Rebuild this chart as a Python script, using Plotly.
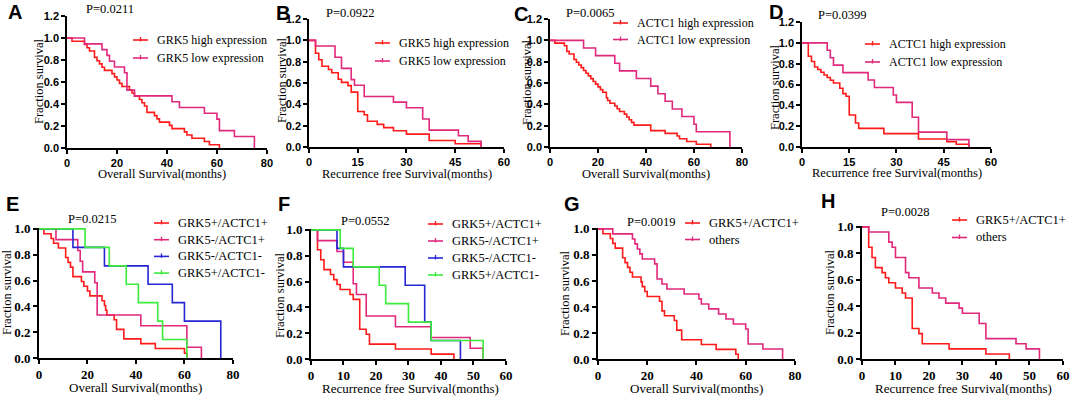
import plotly.graph_objects as go

W, H = 1072, 398

# ---------------- data ----------------
RED, PINK, BLUE, GREEN = "#FF1A1A", "#E0287C", "#2626D4", "#3CEB3C"

P_values = ["P=0.0211", "P=0.0922", "P=0.0065", "P=0.0399",
            "P=0.0215", "P=0.0552", "P=0.0019", "P=0.0028"]

GRK5_labels = ["GRK5 high expression", "GRK5 low expression"]
ACTC1_labels = ["ACTC1 high expression", "ACTC1 low expression"]
COMBO4_labels = ["GRK5+/ACTC1+", "GRK5-/ACTC1+", "GRK5-/ACTC1-", "GRK5+/ACTC1-"]
COMBO2_labels = ["GRK5+/ACTC1+", "others"]

# A: overall survival by GRK5
A_high_t = [0, 2, 7, 8, 9, 11, 12, 13, 14, 15, 18, 19, 20, 21, 22, 25, 26, 27, 29, 30, 31, 32, 35, 36, 37, 41, 42, 47, 48, 50, 55, 57, 61]
A_high_s = [1.0, .971, .941, .912, .882, .824, .794, .765, .735, .706, .676, .647, .618, .588, .559, .529, .5, .471, .441, .412, .382, .324, .294, .265, .235, .206, .176, .147, .118, .088, .059, .029, 0]
A_low_t = [0, 7, 14, 16, 17, 19, 23, 24, 27, 42, 45, 55, 60, 61, 67, 75]
A_low_s = [1.0, .947, .895, .842, .789, .737, .684, .526, .474, .421, .368, .316, .263, .158, .105, 0]

# B: recurrence free survival by GRK5
B_high_t = [0, 2, 3, 4, 6, 7, 9, 10, 12, 13, 15, 17, 18, 21, 23, 26, 30, 37, 45, 53]
B_high_s = [1.0, .879, .818, .758, .727, .697, .636, .606, .576, .515, .333, .303, .242, .212, .182, .152, .121, .061, .030, 0]
B_low_t = [0, 2, 8, 10, 13, 14, 17, 26, 30, 35, 37, 46, 49, 53]
B_low_s = [1.0, .947, .842, .737, .632, .579, .474, .421, .368, .263, .158, .105, .053, 0]

# C: overall survival by ACTC1
C_high_t = [0, 2, 6, 7, 8, 10, 11, 12, 13, 14, 15, 16, 17, 18, 19, 20, 21, 22, 23.5, 24, 25, 27, 28, 29, 31, 32, 33, 34, 35, 42, 48, 53, 54, 57, 61, 67]
C_high_s = [1.0, .974, .949, .897, .872, .821, .795, .769, .744, .718, .692, .667, .641, .615, .590, .564, .538, .513, .462, .436, .410, .385, .359, .333, .308, .282, .256, .231, .205, .154, .128, .103, .077, .051, .026, 0]
C_low_t = [0, 14, 19, 27, 29, 36, 42, 45, 48, 51, 55, 60, 61, 75]
C_low_s = [1.0, .929, .857, .786, .714, .643, .571, .5, .429, .357, .286, .214, .143, 0]

# D: recurrence free survival by ACTC1
D_high_t = [0, 2, 3, 4, 5, 6, 7, 8, 9, 10, 12, 13, 14, 15, 17, 18, 26, 37, 46, 49, 53]
D_high_s = [1.0, .872, .821, .769, .744, .718, .692, .667, .641, .615, .564, .513, .487, .308, .231, .179, .128, .077, .051, .026, 0]
D_low_t = [0, 8, 9, 10, 13, 21, 23, 29, 30, 35, 37, 46, 53]
D_low_s = [1.0, .929, .857, .786, .714, .643, .571, .5, .429, .286, .143, .071, 0]

# E: overall survival, four groups
E_pp_t = [0, 2, 5, 6, 8, 11, 12, 13, 14, 17.5, 18.5, 20, 21, 26, 27, 27.5, 28, 31, 32, 35, 42, 48, 60, 61]
E_pp_s = [1.0, .963, .926, .889, .852, .778, .741, .704, .630, .593, .556, .519, .481, .444, .407, .370, .333, .296, .222, .148, .111, .074, .037, 0]
E_mp_t = [0, 7, 16, 17, 18, 23, 24, 42, 61, 67]
E_mp_s = [1.0, .917, .833, .75, .667, .583, .333, .25, .083, 0]
E_mm_t = [0, 14, 27, 45, 55, 60, 75]
E_mm_s = [1.0, .857, .714, .571, .429, .286, 0]
E_pm_t = [0, 19, 29, 36, 41, 49, 51, 61]
E_pm_s = [1.0, .857, .714, .571, .429, .286, .143, 0]

# F: recurrence free survival, four groups
F_pp_t = [0, 2, 3, 4, 6, 7, 8, 9, 12, 13, 15, 17, 18, 26, 37, 44]
F_pp_s = [1.0, .846, .769, .692, .654, .615, .577, .538, .5, .462, .231, .192, .115, .077, .038, 0]
F_mp_t = [0, 2, 8, 10, 13, 14, 17, 26, 37, 49, 53]
F_mp_s = [1.0, .917, .833, .75, .583, .5, .333, .25, .167, .083, 0]
F_mm_t = [0, 8, 10, 29, 35, 37, 46]
F_mm_s = [1.0, .857, .714, .571, .286, .143, 0]
F_pm_t = [0, 9, 13, 21, 23, 30, 37, 53]
F_pm_s = [1.0, .857, .714, .571, .429, .286, .143, 0]

# G: overall survival, GRK5+/ACTC1+ vs others
G_pp_t = [0, 2, 5, 6, 7, 10, 11, 12, 13, 14, 17.5, 18, 19, 20, 25, 26, 27, 31, 32, 34, 42, 48, 56, 57]
G_pp_s = [1.0, .963, .926, .889, .852, .778, .741, .704, .667, .630, .593, .556, .519, .481, .444, .370, .333, .296, .222, .148, .111, .074, .037, 0]
G_ot_t = [0, 6, 14, 15, 16, 17, 18, 23, 24, 26, 28, 35, 41, 42, 45, 49, 52, 55, 60, 61, 67, 75]
G_ot_s = [1.0, .962, .923, .885, .846, .808, .769, .731, .615, .577, .538, .5, .462, .423, .385, .346, .308, .269, .231, .115, .077, 0]

# H: recurrence free survival, GRK5+/ACTC1+ vs others
H_pp_t = [0, 2, 3, 4, 6, 7, 8, 10, 12, 13, 15, 17, 18, 26, 37, 44]
H_pp_s = [1.0, .846, .769, .692, .654, .615, .577, .538, .5, .462, .231, .192, .115, .077, .038, 0]
H_ot_t = [0, 2, 8, 9, 10, 13, 14, 17, 21, 23, 25, 29, 30, 35, 37, 46, 49, 53]
H_ot_s = [1.0, .962, .885, .846, .769, .654, .615, .538, .5, .462, .423, .385, .346, .269, .154, .115, .077, 0]

OS_title = "Overall Survival(months)"
RFS_title = "Recurrence free Survival(months)"
Y_title = "Fraction survival"

# ---------------- layout of the panels (pixels) ----------------
panels = [
    dict(letter="A", box=(67, 267, 16, 148), xmax=80, dtick=20, top=True, xtitle=OS_title,
         xt=(162, 174), yt=(39, 81), lp=(15, 12), pp=(110, 9), leg=(133, 40, 18),
         series=[(GRK5_labels[0], A_high_t, A_high_s, RED), (GRK5_labels[1], A_low_t, A_low_s, PINK)]),
    dict(letter="B", box=(309, 504, 19, 147), xmax=60, dtick=15, top=True, xtitle=RFS_title,
         xt=(407, 174), yt=(282, 80), lp=(283, 13), pp=(350, 13), leg=(375, 43, 18),
         series=[(GRK5_labels[0], B_high_t, B_high_s, RED), (GRK5_labels[1], B_low_t, B_low_s, PINK)]),
    dict(letter="C", box=(550, 742, 19, 147), xmax=80, dtick=20, top=True, xtitle=OS_title,
         xt=(646, 174), yt=(527, 82), lp=(521, 14), pp=(590, 13), leg=(613, 23, 16.5),
         series=[(ACTC1_labels[0], C_high_t, C_high_s, RED), (ACTC1_labels[1], C_low_t, C_low_s, PINK)]),
    dict(letter="D", box=(802, 991, 22, 147), xmax=60, dtick=15, top=True, xtitle=RFS_title,
         xt=(897, 173), yt=(775, 87), lp=(776, 12), pp=(842, 15), leg=(865, 44, 18),
         series=[(ACTC1_labels[0], D_high_t, D_high_s, RED), (ACTC1_labels[1], D_low_t, D_low_s, PINK)]),
    dict(letter="E", box=(39, 233, 228, 358), xmax=80, dtick=20, top=False, xtitle=OS_title,
         xt=(135, 387), yt=(7, 292), lp=(12, 204), pp=(92, 219), leg=(154, 223, 16.7),
         series=[(COMBO4_labels[0], E_pp_t, E_pp_s, RED), (COMBO4_labels[1], E_mp_t, E_mp_s, PINK),
                 (COMBO4_labels[2], E_mm_t, E_mm_s, BLUE), (COMBO4_labels[3], E_pm_t, E_pm_s, GREEN)]),
    dict(letter="F", box=(311, 506, 229, 359), xmax=60, dtick=10, top=False, xtitle=RFS_title,
         xt=(410, 388), yt=(280, 295), lp=(284, 204), pp=(365, 221), leg=(428, 224, 17),
         series=[(COMBO4_labels[0], F_pp_t, F_pp_s, RED), (COMBO4_labels[1], F_mp_t, F_mp_s, PINK),
                 (COMBO4_labels[2], F_mm_t, F_mm_s, BLUE), (COMBO4_labels[3], F_pm_t, F_pm_s, GREEN)]),
    dict(letter="G", box=(598, 795, 228, 359), xmax=80, dtick=20, top=False, xtitle=OS_title,
         xt=(696, 388), yt=(565, 293), lp=(572, 204), pp=(651, 222), leg=(685, 223, 16.5),
         series=[(COMBO2_labels[0], G_pp_t, G_pp_s, RED), (COMBO2_labels[1], G_ot_t, G_ot_s, PINK)]),
    dict(letter="H", box=(862, 1063, 226, 359), xmax=60, dtick=10, top=False, xtitle=RFS_title,
         xt=(963, 388), yt=(830, 292), lp=(828, 201), pp=(905, 212), leg=(952, 220, 17.5),
         series=[(COMBO2_labels[0], H_pp_t, H_pp_s, RED), (COMBO2_labels[1], H_ot_t, H_ot_s, PINK)]),
]

SERIF = "Liberation Serif, Times New Roman, serif"
SANS = "Liberation Sans, Arial, sans-serif"


def px(x):
    return x / W


def py(y):
    return 1 - y / H


fig = go.Figure()
layout = dict(width=W, height=H, autosize=False, margin=dict(l=0, r=0, t=0, b=0, pad=0),
              paper_bgcolor="white", plot_bgcolor="white", showlegend=False)
annotations = []
shapes = []

for i, p in enumerate(panels):
    n = i + 1
    xa = "x" if n == 1 else f"x{n}"
    ya = "y" if n == 1 else f"y{n}"
    for name, t, s, col in p["series"]:
        fig.add_trace(go.Scatter(x=t, y=s, name=name, mode="lines",
                                 line=dict(color=col, width=1.6, shape="hv"),
                                 xaxis=xa, yaxis=ya, showlegend=False))
    x0, x1, yt, yb = p["box"]
    if p["top"]:
        tfont = dict(family=SANS, size=11, color="black", weight="bold")
        yvals = [0, 0.2, 0.4, 0.6, 0.8, 1.0, 1.2]
        yrange = [0, 1.2005]
    else:
        tfont = dict(family=SERIF, size=13, color="black", weight="bold")
        yvals = [0, 0.2, 0.4, 0.6, 0.8, 1.0]
        yrange = [0, 1.007]
    common = dict(showline=True, linecolor="black", linewidth=1.6, ticks="outside",
                  ticklen=4, tickwidth=1.5, tickcolor="black", showgrid=False,
                  zeroline=False, tickfont=tfont, fixedrange=True, automargin=False)
    layout["xaxis" if n == 1 else f"xaxis{n}"] = dict(
        domain=[px(x0), px(x1)], anchor=ya, range=[0, p["xmax"] * 1.0005],
        tick0=0, dtick=p["dtick"], **common)
    layout["yaxis" if n == 1 else f"yaxis{n}"] = dict(
        domain=[py(yb), py(yt)], anchor=xa, range=yrange,
        tickvals=yvals, ticktext=[f"{v:.1f}" for v in yvals], **common)

    # panel letter
    annotations.append(dict(text=p["letter"], x=px(p["lp"][0]), y=py(p["lp"][1]),
                            xref="paper", yref="paper", showarrow=False,
                            xanchor="center", yanchor="middle",
                            font=dict(family=SANS, size=20, color="black", weight="bold")))
    # p value
    annotations.append(dict(text=P_values[i], x=px(p["pp"][0]), y=py(p["pp"][1]),
                            xref="paper", yref="paper", showarrow=False,
                            xanchor="center", yanchor="middle",
                            font=dict(family=SERIF, size=12.5, color="black")))
    # axis titles
    fsz = 12.5 if p["top"] else 13
    annotations.append(dict(text=p["xtitle"], x=px(p["xt"][0]), y=py(p["xt"][1]),
                            xref="paper", yref="paper", showarrow=False,
                            xanchor="center", yanchor="middle",
                            font=dict(family=SERIF, size=fsz, color="black")))
    annotations.append(dict(text=Y_title, x=px(p["yt"][0]), y=py(p["yt"][1]),
                            xref="paper", yref="paper", showarrow=False, textangle=-90,
                            xanchor="center", yanchor="middle",
                            font=dict(family=SERIF, size=12.5, color="black")))
    # legend (line sample with censor tick + label)
    lx, ly, dy = p["leg"]
    for k, (name, t, s, col) in enumerate(p["series"]):
        yy = ly + k * dy
        shapes.append(dict(type="line", xref="paper", yref="paper",
                           x0=px(lx), x1=px(lx + 15), y0=py(yy), y1=py(yy),
                           line=dict(color=col, width=1.6)))
        shapes.append(dict(type="line", xref="paper", yref="paper",
                           x0=px(lx + 7.5), x1=px(lx + 7.5), y0=py(yy - 3), y1=py(yy + 1.5),
                           line=dict(color=col, width=1.3)))
        annotations.append(dict(text=name, x=px(lx + 22), y=py(yy),
                                xref="paper", yref="paper", showarrow=False,
                                xanchor="left", yanchor="middle",
                                font=dict(family=SERIF, size=12.5 if not p["top"] else 12, color="black")))

layout["annotations"] = annotations
layout["shapes"] = shapes
fig.update_layout(**layout)
fig.write_html("out.html", config={"displayModeBar": False},
               post_script="document.body.style.margin='0';document.body.style.overflow='hidden';")
